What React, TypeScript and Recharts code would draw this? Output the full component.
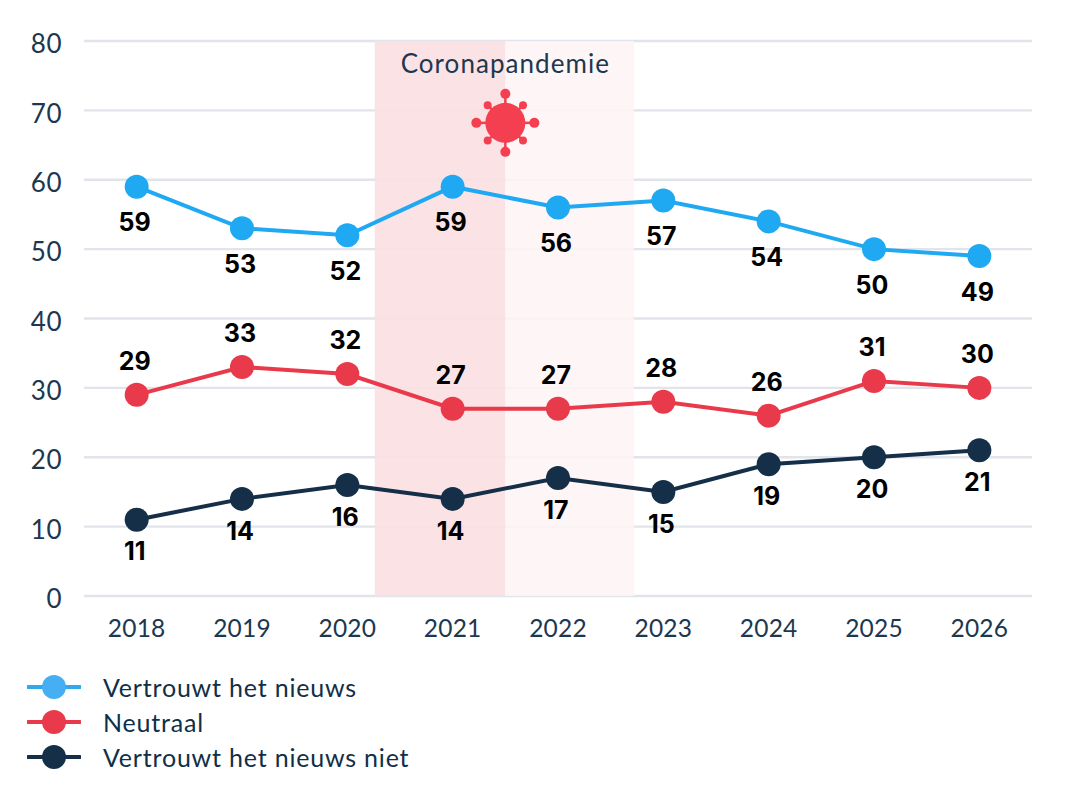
import {
  LineChart,
  Line,
  XAxis,
  YAxis,
  CartesianGrid,
  Legend,
  LabelList,
  ReferenceArea,
  ReferenceDot,
} from "recharts";

const years = [2018, 2019, 2020, 2021, 2022, 2023, 2024, 2025, 2026];
const trust = [59, 53, 52, 59, 56, 57, 54, 50, 49];
const neutral = [29, 33, 32, 27, 27, 28, 26, 31, 30];
const distrust = [11, 14, 16, 14, 17, 15, 19, 20, 21];
const yTicks = [0, 10, 20, 30, 40, 50, 60, 70, 80];

const TEXT = "#1b3850";
const BLUE = "#1fa9f2";
const RED = "#e83a4a";
const NAVY = "#142f47";
const FONT = "Lato, sans-serif";

const data = years.map((year, i) => ({
  year,
  trust: trust[i],
  neutral: neutral[i],
  distrust: distrust[i],
}));

const legendItems = [
  { label: "Vertrouwt het nieuws", line: "#2fa9ee", dot: "#46aef2" },
  { label: "Neutraal", line: RED, dot: RED },
  { label: "Vertrouwt het nieuws niet", line: NAVY, dot: NAVY },
];

function ChartLegend() {
  return (
    <div style={{ position: "absolute", left: 27, top: 29 }}>
      {legendItems.map((item) => (
        <div key={item.label} style={{ display: "flex", alignItems: "center", height: 35 }}>
          <svg width={54} height={26} style={{ marginRight: 22 }}>
            <line x1={1} y1={13} x2={53} y2={13} stroke={item.line} strokeWidth={4} strokeLinecap="round" />
            <circle cx={27} cy={13} r={12} fill={item.dot} />
          </svg>
          <span style={{ fontFamily: FONT, fontSize: 25, color: "#0f3048", letterSpacing: 0.8 }}>{item.label}</span>
        </div>
      ))}
    </div>
  );
}

function VirusIcon({ cx, cy }: { cx?: number; cy?: number }) {
  const angles = [0, 45, 90, 135, 180, 225, 270, 315];
  return (
    <g>
      {angles.map((a) => {
        const rad = (a * Math.PI) / 180;
        const far = a % 90 === 0 ? 29 : 25;
        const x = (cx ?? 0) + far * Math.cos(rad);
        const y = (cy ?? 0) + far * Math.sin(rad);
        return (
          <g key={a}>
            <line x1={cx} y1={cy} x2={x} y2={y} stroke="#f43f50" strokeWidth={2.5} />
            <circle cx={x} cy={y} r={a % 90 === 0 ? 5 : 4} fill="#f43f50" />
          </g>
        );
      })}
      <circle cx={cx} cy={cy} r={20} fill="#f43f50" />
    </g>
  );
}

function PandemicTitle({ cx, cy }: { cx?: number; cy?: number }) {
  return (
    <text x={cx} y={cy} textAnchor="middle" dominantBaseline="central" fontFamily={FONT} fontSize={26} fill={TEXT} letterSpacing={1.05}>
      Coronapandemie
    </text>
  );
}

const labelStyle = { fontFamily: "Inter, sans-serif", fontSize: 25, fontWeight: 700, fill: "#000" };

export default function App() {
  return (
    <div style={{ position: "absolute", left: 0, top: 0, width: 1070, height: 798 }}>
      <LineChart width={1070} height={798} data={data} margin={{ top: 41, right: 38, bottom: 0, left: 0 }}>
        <CartesianGrid horizontal vertical={false} stroke="#e2e4ec" strokeWidth={2.4} />
        <XAxis
          dataKey="year"
          type="number"
          domain={[2017.5, 2026.5]}
          ticks={years}
          height={44}
          axisLine={false}
          tickLine={false}
          tickMargin={18}
          interval={0}
          tick={{ fontFamily: FONT, fontSize: 24.5, fill: TEXT, letterSpacing: 0.2 }}
        />
        <YAxis
          domain={[0, 80]}
          ticks={yTicks}
          width={84}
          axisLine={false}
          tickLine={false}
          tickMargin={16}
          tick={{ fontFamily: FONT, fontSize: 26, fill: TEXT, dy: 3, letterSpacing: 0.5 }}
        />
        <ReferenceArea x1={2020.26} x2={2021.5} fill="#fbdfe2" fillOpacity={0.9} stroke="none" />
        <ReferenceArea x1={2021.5} x2={2022.72} fill="#fdf4f5" fillOpacity={0.9} stroke="none" />
        <ReferenceDot x={2021.5} y={76.9} shape={PandemicTitle} />
        <ReferenceDot x={2021.5} y={68.2} shape={VirusIcon} />
        <Legend verticalAlign="bottom" align="left" height={158} content={ChartLegend} wrapperStyle={{ left: 0, width: 500 }} />
        <Line dataKey="trust" name="Vertrouwt het nieuws" stroke={BLUE} strokeWidth={4} dot={{ r: 12, fill: BLUE, stroke: "none" }} isAnimationActive={false}>
          <LabelList dataKey="trust" position="bottom" offset={27} dx={-2} style={labelStyle} />
        </Line>
        <Line dataKey="neutral" name="Neutraal" stroke={RED} strokeWidth={4} dot={{ r: 12, fill: RED, stroke: "none" }} isAnimationActive={false}>
          <LabelList dataKey="neutral" position="top" offset={25} dx={-2} style={labelStyle} />
        </Line>
        <Line dataKey="distrust" name="Vertrouwt het nieuws niet" stroke={NAVY} strokeWidth={4} dot={{ r: 12, fill: NAVY, stroke: "none" }} isAnimationActive={false}>
          <LabelList dataKey="distrust" position="bottom" offset={23} dx={-2} style={labelStyle} />
        </Line>
      </LineChart>
    </div>
  );
}
